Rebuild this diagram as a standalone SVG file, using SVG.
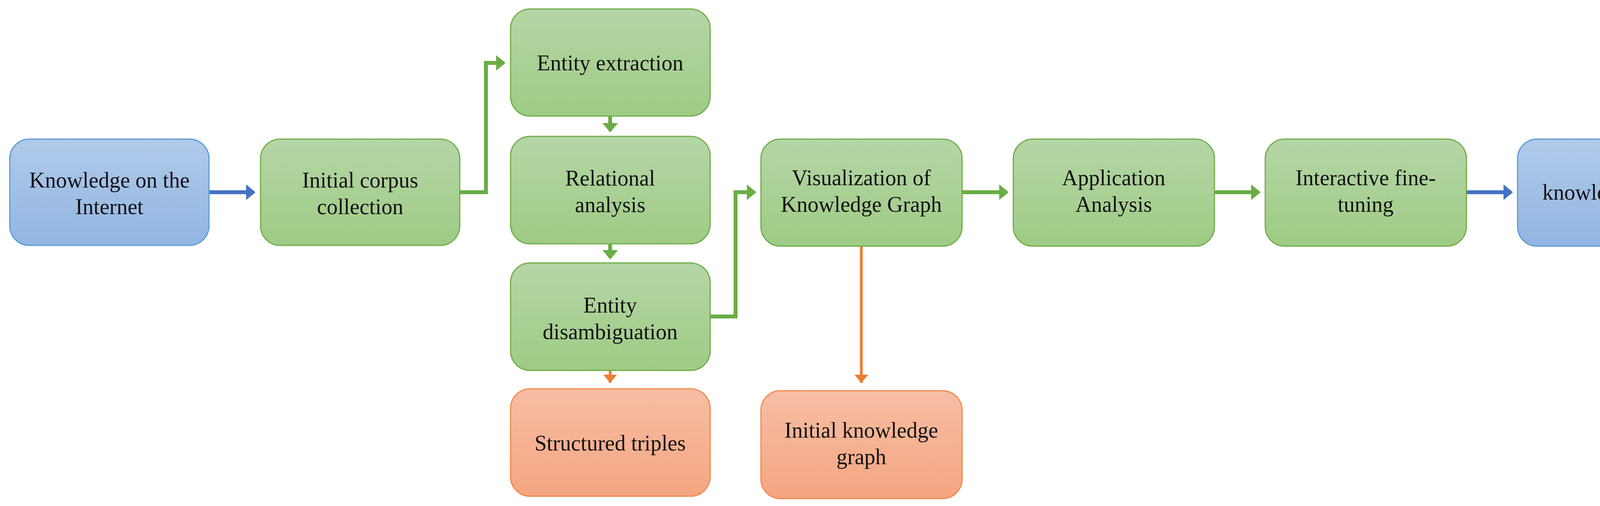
<svg xmlns="http://www.w3.org/2000/svg" width="4403" height="1295" viewBox="0 0 4403 1295">
<defs>
<linearGradient id="gG" x1="0" y1="0" x2="0" y2="1"><stop offset="0" stop-color="#b5d6a6"/><stop offset="1" stop-color="#9ecb85"/></linearGradient>
<linearGradient id="gB" x1="0" y1="0" x2="0" y2="1"><stop offset="0" stop-color="#b0caea"/><stop offset="1" stop-color="#92b5e2"/></linearGradient>
<linearGradient id="gO" x1="0" y1="0" x2="0" y2="1"><stop offset="0" stop-color="#f7bea5"/><stop offset="1" stop-color="#f5a580"/></linearGradient>
<marker id="aG" markerWidth="4" markerHeight="4" refX="2" refY="2" orient="auto" markerUnits="strokeWidth"><path d="M0,0 L2.4,2 L0,4 z" fill="#6aad45"/></marker>
<marker id="aB" markerWidth="4" markerHeight="4" refX="2" refY="2" orient="auto" markerUnits="strokeWidth"><path d="M0,0 L2.4,2 L0,4 z" fill="#4472c4"/></marker>
<marker id="aO" markerWidth="5" markerHeight="5" refX="3" refY="2.5" orient="auto" markerUnits="strokeWidth"><path d="M0,0 L3,2.5 L0,5 z" fill="#ed7d31"/></marker>
</defs>
<style>
.g{fill:url(#gG);stroke:#70ad47;stroke-width:3}
.b{fill:url(#gB);stroke:#5b9bd5;stroke-width:3}
.o{fill:url(#gO);stroke:#f08a4b;stroke-width:3}
text{font-family:"Liberation Serif","Times New Roman",serif;font-size:56px;fill:#111;text-anchor:middle}
.cg{fill:none;stroke:#6aad45;stroke-width:10}
.cb{fill:none;stroke:#4472c4;stroke-width:10}
.co{fill:none;stroke:#ed7d31;stroke-width:7}
</style>
<g id="connectors">
<path class="cb" d="M534,492 H650" marker-end="url(#aB)"/>
<path class="cg" d="M1177,492 H1244 V161 H1290" marker-end="url(#aG)"/>
<path class="cg" d="M1562,297 V335" marker-end="url(#aG)"/>
<path class="cg" d="M1562,624 V660" marker-end="url(#aG)"/>
<path class="co" d="M1562,948 V980" marker-end="url(#aO)"/>
<path class="cg" d="M1818,810 H1883 V492 H1932" marker-end="url(#aG)"/>
<path class="cg" d="M2463,492 H2578" marker-end="url(#aG)"/>
<path class="cg" d="M3109,492 H3223" marker-end="url(#aG)"/>
<path class="cb" d="M3754,492 H3869" marker-end="url(#aB)"/>
<path class="co" d="M2205,630 V980" marker-end="url(#aO)"/>
</g>
<g id="n1"><rect class="b" x="25" y="356" width="510" height="272" rx="50"/><text x="280" y="480">Knowledge on the</text><text x="280" y="548">Internet</text></g>
<g id="n2"><rect class="g" x="667" y="356" width="510" height="272" rx="50"/><text x="922" y="480">Initial corpus</text><text x="922" y="548">collection</text></g>
<g id="n3"><rect class="g" x="1307" y="23" width="511" height="274" rx="50"/><text x="1562" y="180">Entity extraction</text></g>
<g id="n4"><rect class="g" x="1307" y="349" width="511" height="275" rx="50"/><text x="1562" y="475">Relational</text><text x="1562" y="543">analysis</text></g>
<g id="n5"><rect class="g" x="1307" y="673" width="511" height="275" rx="50"/><text x="1562" y="800">Entity</text><text x="1562" y="868">disambiguation</text></g>
<g id="n6"><rect class="o" x="1307" y="995" width="511" height="275" rx="50"/><text x="1562" y="1153">Structured triples</text></g>
<g id="n7"><rect class="g" x="1948" y="356" width="515" height="274" rx="50"/><text x="2205" y="474">Visualization of</text><text x="2205" y="542">Knowledge Graph</text></g>
<g id="n8"><rect class="o" x="1948" y="1000" width="515" height="276" rx="50"/><text x="2205" y="1120">Initial knowledge</text><text x="2205" y="1188">graph</text></g>
<g id="n9"><rect class="g" x="2594" y="356" width="515" height="274" rx="50"/><text x="2851" y="474">Application</text><text x="2851" y="542">Analysis</text></g>
<g id="n10"><rect class="g" x="3239" y="356" width="515" height="274" rx="50"/><text x="3496" y="474">Interactive fine-</text><text x="3496" y="542">tuning</text></g>
<g id="n11"><rect class="b" x="3885" y="356" width="515" height="274" rx="50"/><text x="4142" y="511">knowledge graph</text></g>
</svg>
